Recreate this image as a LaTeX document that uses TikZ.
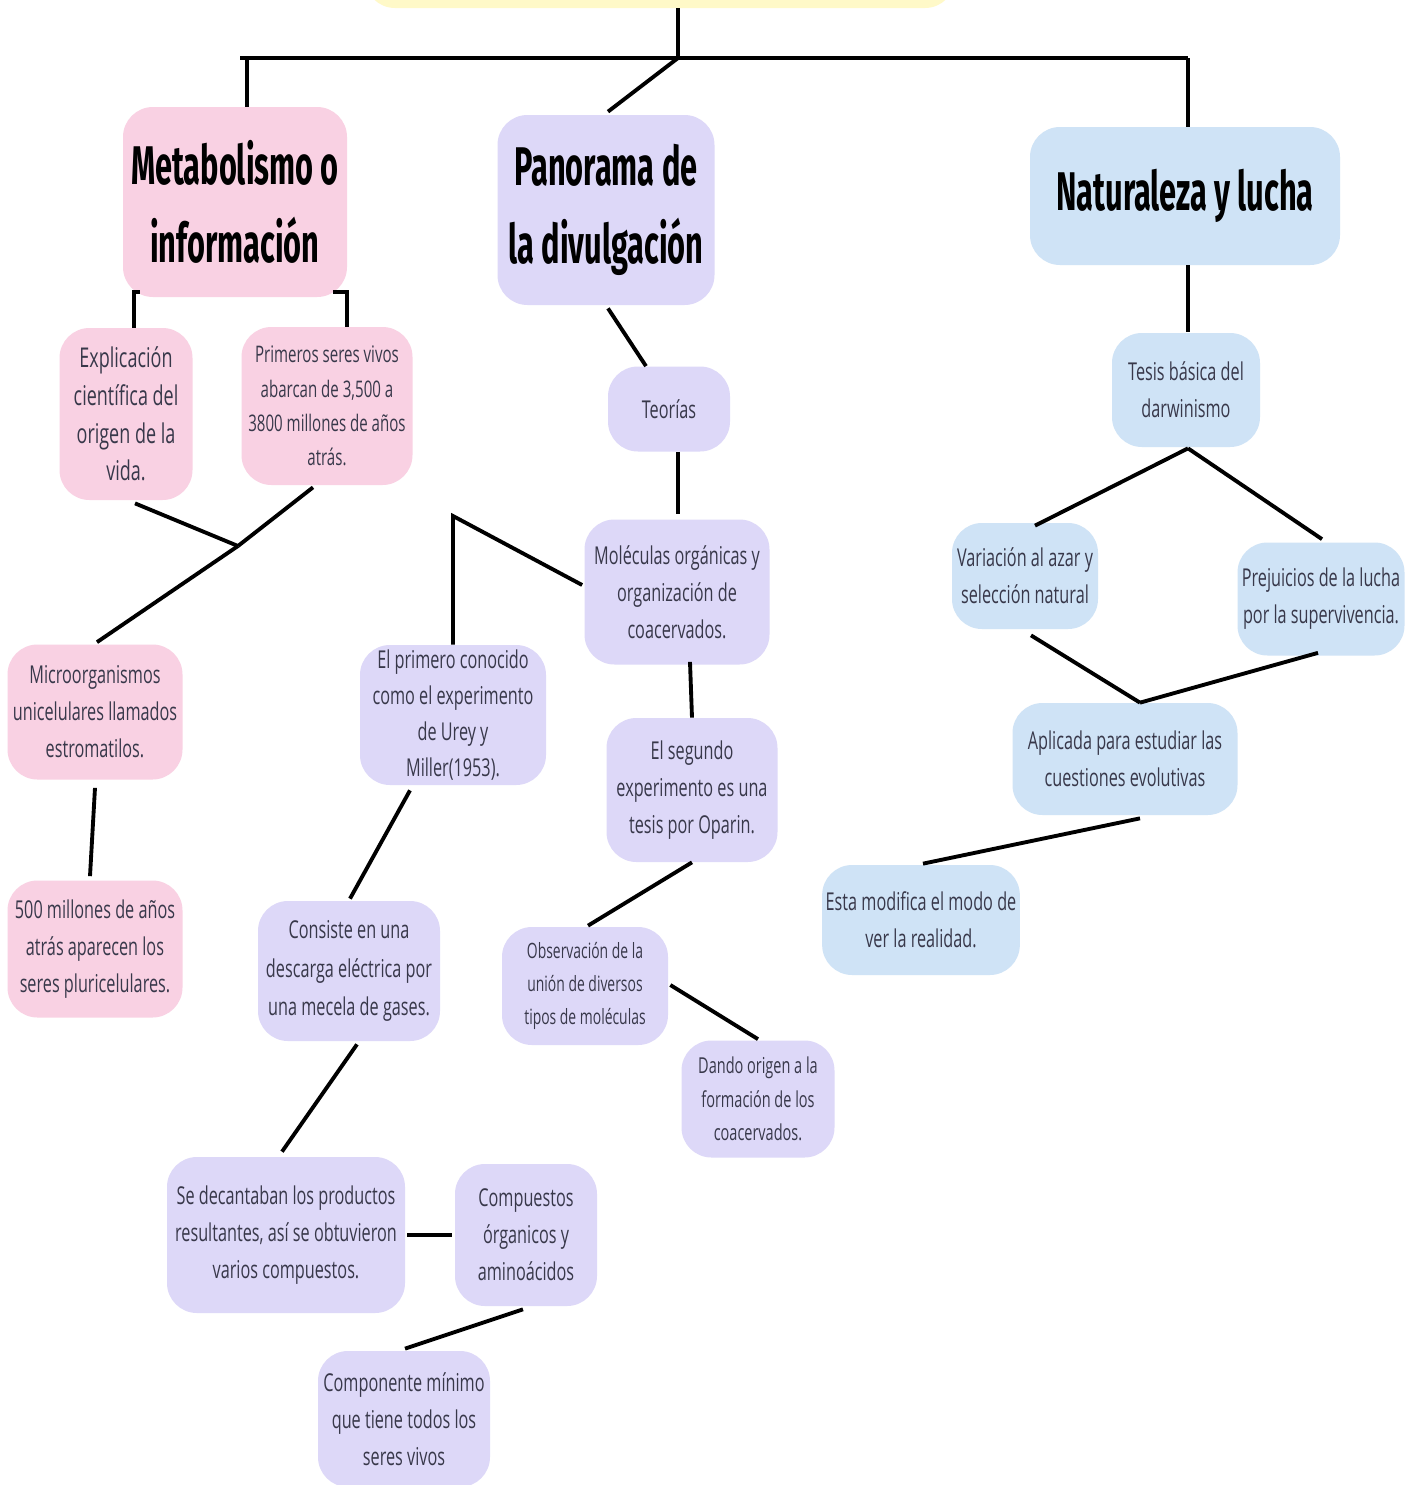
\documentclass[tikz,border=0pt]{standalone}
\usepackage{fontspec}
\setmainfont[FakeStretch=0.66]{Open Sans}
\newfontfamily\titlefont[FakeStretch=0.565]{Fira Sans}
\definecolor{metaPink}{HTML}{F9D1E3}
\definecolor{panLilac}{HTML}{DDD8F8}
\definecolor{natBlue}{HTML}{CFE3F6}
\definecolor{topYellow}{HTML}{FFF9C8}
\definecolor{inkGrey}{HTML}{38384A}

\begin{document}
\begin{tikzpicture}[%
    x=0.02cm, y=-0.02cm,
    sz/.style 2 args={%
        minimum width=#1*0.02cm,
        minimum height=#2*0.02cm
    },
    box/.style={%
        rounded corners=0.6cm,
        inner sep=2pt,
        align=center,
        text=inkGrey,
        font=\fontsize{14}{21}\selectfont
    },
    titleBox/.style={%
        box,
        text=black,
        font=\titlefont\bfseries\fontsize{31}{44}\selectfont
    },
    metaBox/.style={box, fill=metaPink},
    panBox/.style={box, fill=panLilac},
    natBox/.style={box, fill=natBlue},
    link/.style={line width=2.2pt, black}
]

\useasboundingbox (0,0) rectangle (1419,1485);
\fill[white] (0,0) rectangle (1419,1485);

% Main topic (cut at the top)
\node[box, fill=topYellow, sz={590}{80}] (tema) at (660,-32) {};

% Hub
\coordinate (hub) at (678,58);
\coordinate (hubL) at (240,58);
\coordinate (hubM) at (247,58);
\coordinate (hubR) at (1188,58);

% Branch titles
\node[titleBox, fill=metaPink, sz={224}{190}] (meta) at (235,202) {Metabolismo o\\información};
\node[titleBox, fill=panLilac, sz={217}{190}] (pan) at (606,210) {Panorama de\\la divulgación};
\node[titleBox, fill=natBlue, sz={310}{138}] (nat) at (1185,196) {Naturaleza y lucha};

% Metabolismo o informacion
\node[metaBox, sz={133}{172}, font=\fontsize{15.5}{21.5}\selectfont] (expl) at (126,414) {Explicación\\científica del\\origen de la\\vida.};
\node[metaBox, sz={171}{158}, font=\fontsize{13}{19.5}\selectfont] (prim) at (327,406) {Primeros seres vivos\\abarcan de 3,500 a\\3800 millones de años\\atrás.};
\coordinate (jmeta) at (238,546);
\node[metaBox, sz={175}{135}] (micro) at (95,712) {Microorganismos\\unicelulares llamados\\estromatilos.};
\node[metaBox, sz={175}{137}] (quin) at (95,949) {500 millones de años\\atrás aparecen los\\seres pluricelulares.};

% Panorama de la divulgacion
\node[panBox, sz={122}{85}] (teor) at (669,409) {Teorías};
\node[panBox, sz={185}{145}] (mol) at (677,592) {Moléculas orgánicas y\\organización de\\coacervados.};
\coordinate (bend) at (453,516);
\node[panBox, sz={186}{140}, font=\fontsize{14}{20.5}\selectfont] (urey) at (453,715) {El primero conocido\\como el experimento\\de Urey y\\Miller(1953).};
\node[panBox, sz={182}{140}, font=\fontsize{14}{22}\selectfont] (cons) at (349,971) {Consiste en una\\descarga eléctrica por\\una mecela de gases.};
\node[panBox, sz={238}{156}] (decant) at (286,1235) {Se decantaban los productos\\resultantes, así se obtuvieron\\varios compuestos.};
\node[panBox, sz={142}{142}] (comp) at (526,1235) {Compuestos\\órganicos y\\aminoácidos};
\node[panBox, sz={172}{136}] (minimo) at (404,1419) {Componente mínimo\\que tiene todos los\\seres vivos};
\node[panBox, sz={171}{144}] (oparin) at (692,790) {El segundo\\experimento es una\\tesis por Oparin.};
\node[panBox, sz={166}{118}, font=\fontsize{12}{19}\selectfont] (obs) at (585,986) {Observación de la\\unión de diversos\\tipos de moléculas};
\node[panBox, sz={153}{117}, font=\fontsize{12.5}{19}\selectfont] (dando) at (758,1099) {Dando origen a la\\formación de los\\coacervados.};

% Naturaleza y lucha
\node[natBox, sz={148}{114}] (tesis) at (1186,390) {Tesis básica del\\darwinismo};
\node[natBox, sz={146}{106}] (azar) at (1025,576) {Variación al azar y\\selección natural};
\node[natBox, sz={167}{113}] (prej) at (1321,599) {Prejuicios de la lucha\\por la supervivencia.};
\node[natBox, sz={225}{112}] (apl) at (1125,759) {Aplicada para estudiar las\\cuestiones evolutivas};
\node[natBox, sz={197}{110}] (esta) at (921,920) {Esta modifica el modo de\\ver la realidad.};

% Links
\draw[link] (hub |- tema.south) -- (hub);
\draw[link] (hubL) -- (hubR);
\draw[link] (hubM) -- (hubM |- meta.north);
\draw[link] (hub) -- ([shift={(2,-3)}]pan.north);
\draw[link] (hubR) -- (hubR |- nat.north);

\draw[link] ([shift={(17,-5)}]meta.south west) -| ([shift={(8,0)}]expl.north);
\draw[link] ([shift={(-14,-5)}]meta.south east) -| ([shift={(20,0)}]prim.north);
\draw[link] ([shift={(9,3)}]expl.south) -- (jmeta);
\draw[link] ([shift={(-14,2)}]prim.south) -- (jmeta);
\draw[link] (jmeta) -- ([shift={(2,-2)}]micro.north);
\draw[link] ([shift={(0,8)}]micro.south) -- ([shift={(-5,-4)}]quin.north);

\draw[link] ([shift={(2,3)}]pan.south) -- ([shift={(-23,0)}]teor.north);
\draw[link] ([shift={(9,0)}]teor.south) -- ([shift={(1,-5)}]mol.north);
\draw[link] ([shift={(-2,-7)}]mol.west) -- (bend) -- (urey.north);
\draw[link] ([shift={(-43,5)}]urey.south) -- ([shift={(1,-2)}]cons.north);
\draw[link] ([shift={(8,3)}]cons.south) -- ([shift={(-4,-5)}]decant.north);
\draw[link] ([shift={(2,0)}]decant.east) -- ([shift={(-3,0)}]comp.west);
\draw[link] ([shift={(-3,3)}]comp.south) -- ([shift={(1,-2)}]minimo.north);
\draw[link] ([shift={(13,-3)}]mol.south) -- (oparin.north);
\draw[link] (oparin.south) -- ([shift={(3,-1)}]obs.north);
\draw[link] ([shift={(2,-1)}]obs.east) -- ([shift={(0,-1)}]dando.north);

\draw[link] ([shift={(3,0)}]nat.south) -- ([shift={(2,-1)}]tesis.north);
\draw[link] ([shift={(2,1)}]tesis.south) -- ([shift={(10,3)}]azar.north);
\draw[link] ([shift={(2,1)}]tesis.south) -- ([shift={(1,-3)}]prej.north);
\draw[link] ([shift={(6,6)}]azar.south) -- ([shift={(15,0)}]apl.north);
\draw[link] ([shift={(-3,-3)}]prej.south) -- ([shift={(15,0)}]apl.north);
\draw[link] ([shift={(15,3)}]apl.south) -- ([shift={(2,-1)}]esta.north);

\end{tikzpicture}
\end{document}
